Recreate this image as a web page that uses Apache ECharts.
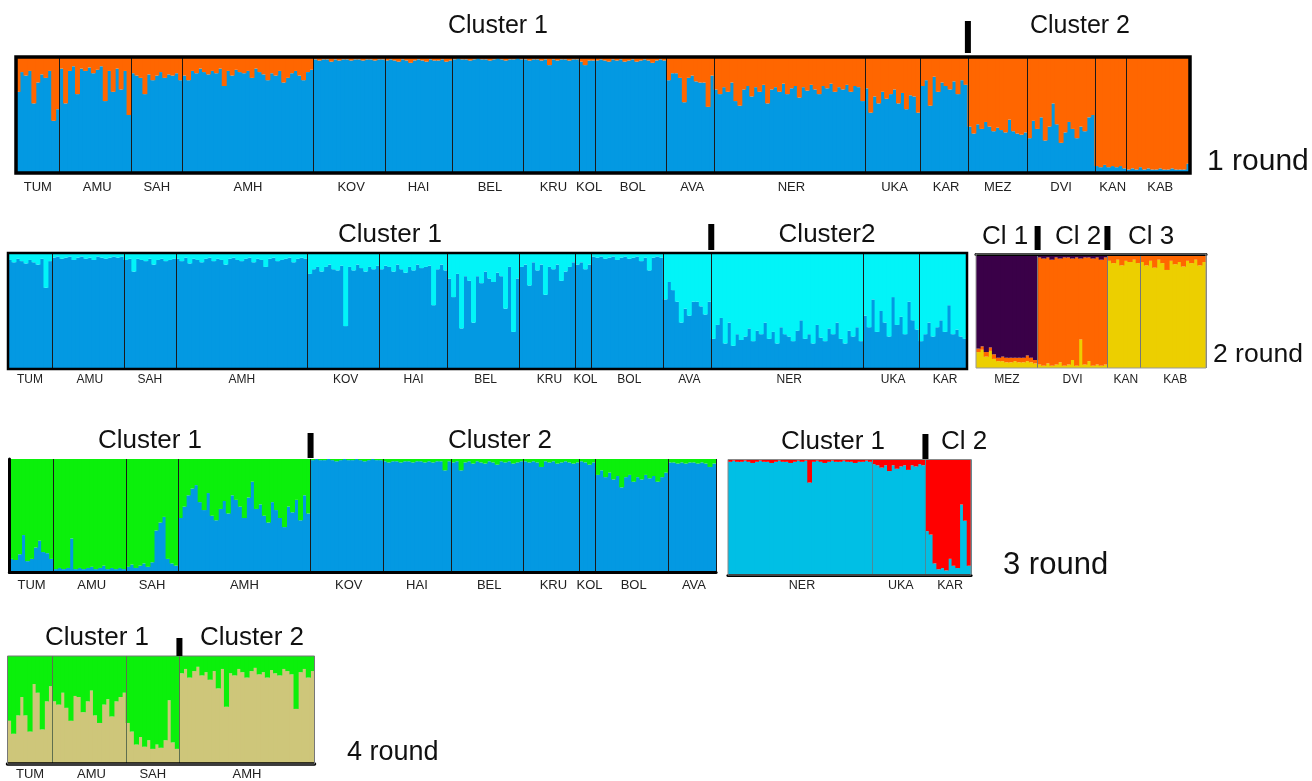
<!DOCTYPE html>
<html>
<head>
<meta charset="utf-8">
<title>STRUCTURE rounds</title>
<script src="https://cdn.jsdelivr.net/npm/echarts@6.0.0/dist/echarts.min.js"></script>
<style>
html,body{margin:0;padding:0;background:#fff;}
#main{width:1312px;height:781px;}
</style>
</head>
<body>
<div id="main"></div>
<script>
// populations and number of individuals drawn for each
var popNames = ['TUM','AMU','SAH','AMH','KOV','HAI','BEL','KRU','KOL','BOL','AVA','NER','UKA','KAR','MEZ','DVI','KAN','KAB'];
var popCounts = [11,18,13,33,18,17,18,14,4,18,12,38,14,12,15,17,8,16];

// round 1 : share of the blue cluster (%), the rest is orange
var r1Blue = [
  70,87,84,88,60,78,85,82,88,45,55,                                   // TUM
  90,60,88,92,68,90,88,91,86,89,92,62,88,70,90,72,88,50,              // AMU
  86,84,82,68,85,80,84,87,82,85,84,86,80,                             // SAH
  84,80,88,86,90,87,85,88,86,90,75,88,84,89,87,86,88,82,90,87,85,80,86,84,88,78,82,86,88,84,80,87,89, // AMH
  98,97,98,98,96,98,97,98,98,97,98,98,97,98,98,97,98,98,              // KOV
  97,98,97,96,98,97,95,97,98,97,96,98,97,97,98,96,97,                 // HAI
  98,99,98,98,97,98,99,98,98,97,98,99,98,97,98,98,99,98,              // BEL
  98,97,98,98,97,98,93,98,97,98,98,97,98,98,                          // KRU
  96,93,97,97,                                                        // KOL
  97,98,97,96,98,97,98,96,97,98,96,97,98,97,95,97,98,97,              // BOL
  80,86,86,82,61,82,84,79,78,78,57,84,                                // AVA
  72,68,74,70,78,62,58,72,75,66,74,70,76,60,72,74,70,77,68,73,75,65,74,71,76,72,68,75,73,77,70,74,72,76,70,75,74,62, // NER
  73,52,66,60,70,64,68,72,60,69,55,67,66,52,                          // UKA
  75,80,58,83,70,78,75,72,79,68,80,76,                                // KAR
  40,34,42,38,44,40,36,39,37,35,46,36,34,33,35,                       // MEZ
  30,45,38,48,28,40,60,42,26,35,44,38,30,40,36,48,50,                 // DVI
  6,5,7,5,6,5,6,4,                                                    // KAN
  3,4,3,5,3,4,3,3,4,3,3,4,3,3,3,8                                     // KAB
];

// round 2, TUM..KAR : share of blue (%), the rest is cyan
var r2Blue = [
  94,92,95,93,91,94,92,90,95,70,93,
  96,97,95,96,97,94,96,97,95,96,94,97,96,95,96,97,96,97,
  94,95,84,95,94,93,95,90,94,95,93,94,95,
  95,93,96,91,95,94,92,95,96,93,95,94,90,95,96,94,93,95,96,92,95,94,88,95,96,93,94,95,96,92,95,96,95,
  82,86,88,84,88,90,86,85,89,37,88,85,90,87,84,88,86,89,
  86,89,88,84,90,86,83,88,85,90,87,88,89,55,86,90,85,
  78,62,82,35,80,76,40,80,74,84,78,75,83,80,52,88,32,78,
  88,90,72,92,85,90,64,88,86,90,76,84,88,92,
  90,92,86,90,
  97,96,97,95,96,97,94,96,97,95,96,97,93,96,85,96,97,96,
  60,75,68,58,40,52,46,58,58,54,47,58,
  26,38,44,22,40,20,30,25,28,35,24,33,30,40,26,32,22,36,30,28,24,33,42,26,30,22,38,27,24,35,30,40,26,22,33,28,36,24,
  46,36,60,32,50,40,28,62,38,45,30,58,42,34,
  24,30,40,28,36,42,32,55,30,34,28,26
];

// round 2, MEZ..KAB : yellow and orange shares (%), the rest is purple
var r2Yellow = [
  14,16,10,15,8,6,6,5,5,6,5,5,6,5,4,
  3,2,4,2,3,5,2,3,7,2,25,3,6,2,3,2,3,
  94,92,95,90,94,93,95,92,
  93,90,94,88,95,92,86,94,91,93,89,94,92,95,90,93
];
var r2Orange = [
  3,3,4,3,4,3,4,4,4,3,4,4,5,4,3,
  94,94,93,93,94,91,95,94,89,95,71,94,91,94,94,93,94,
  5,7,4,9,5,6,4,7,
  6,9,5,11,4,7,13,5,8,6,10,5,7,4,9,6
];

// round 3, TUM..AVA : share of blue (%), the rest is green
var r3Blue = [
  12,11,16,33,10,12,22,28,18,17,12,
  3,4,3,4,30,3,4,3,4,5,3,4,6,3,4,3,4,3,
  5,7,4,6,8,5,9,37,44,49,12,8,6,
  48,58,68,74,77,62,55,70,50,46,56,63,52,68,64,58,48,66,80,56,60,50,44,62,55,48,40,58,53,64,46,68,52,
  99,100,99,99,100,99,98,99,100,99,99,100,99,98,99,100,99,99,
  98,97,98,98,97,98,98,97,98,98,97,98,97,98,98,90,98,
  97,98,90,97,98,96,98,97,96,98,97,95,98,97,98,96,97,98,
  98,97,98,97,93,98,97,98,96,97,98,97,96,97,
  98,97,95,97,
  86,90,84,88,82,85,75,84,86,80,84,82,86,83,85,80,84,88,
  97,97,96,97,96,97,97,96,97,96,93,96
];

// round 3, NER..KAR : share of light blue (%), the rest is red
var r3LightBlue = [
  98,99,98,98,99,98,97,98,99,98,98,97,98,99,98,98,97,98,99,98,99,80,98,99,98,97,98,99,98,98,99,98,98,97,98,98,99,98,
  96,95,93,95,90,95,92,94,95,91,95,94,96,95,
  38,35,10,5,6,4,14,8,6,61,47,8
];

// round 4, TUM..AMH : share of khaki (%), the rest is green
var r4Khaki = [
  40,28,45,62,45,30,74,66,32,58,72,
  58,55,66,52,40,63,62,48,58,68,45,38,55,60,44,58,62,66,
  38,30,18,25,16,22,14,18,15,22,59,20,14,
  84,88,80,86,90,82,85,78,86,70,88,53,84,82,88,85,80,86,89,83,85,80,87,84,82,88,86,83,51,85,88,80,86
];

var FONT = '"Liberation Sans", Arial, sans-serif';
var C = {
  blue: '#0399E2', orange: '#FF6600', cyan: '#02F4F8', purple: '#3A0048',
  yellow: '#ECCF00', green: '#0BF00B', lightBlue: '#00BFE5', red: '#FF0000', khaki: '#CEC67A'
};

function rest(a, b) {
  return a.map(function (v, i) { return 100 - v - (b ? b[i] : 0); });
}

var panels = [
  { pops: popNames.slice(0, 18), grid: {left: 16, top: 57, width: 1174, height: 116},
    border: {color: '#000', width: 3.5}, labelSize: 13, margin: 8, divider: '#1a1a1a',
    layers: [[r1Blue, C.blue], [rest(r1Blue), C.orange]] },
  { pops: popNames.slice(0, 14), grid: {left: 8, top: 253, width: 959, height: 116},
    border: {color: '#000', width: 2.5}, labelSize: 12, margin: 5, divider: '#1a1a1a',
    layers: [[r2Blue, C.blue], [rest(r2Blue), C.cyan]] },
  { pops: popNames.slice(14), grid: {left: 976, top: 254, width: 230, height: 114},
    border: {color: '#999', width: 1}, topLine: true, labelSize: 12, margin: 6, divider: '#777',
    layers: [[r2Yellow, C.yellow], [r2Orange, C.orange], [rest(r2Yellow, r2Orange), C.purple]] },
  { pops: popNames.slice(0, 11), grid: {left: 9.5, top: 459, width: 706.5, height: 113.5},
    bottomLine: 3.2, leftLine: 3, labelSize: 13, margin: 6, divider: '#1a1a1a',
    layers: [[r3Blue, C.blue], [rest(r3Blue), C.green]] },
  { pops: ['NER','UKA','KAR'], grid: {left: 728, top: 459.5, width: 243, height: 115.5},
    border: {color: '#888', width: 1}, bottomLine: 3.2, labelSize: 12.5, margin: 4, divider: '#4a8a9a',
    layers: [[r3LightBlue, C.lightBlue], [rest(r3LightBlue), C.red]] },
  { pops: popNames.slice(0, 4), grid: {left: 7.5, top: 656, width: 307, height: 109},
    border: {color: '#777', width: 1}, bottomLine: 3.5, labelSize: 13, margin: 4, divider: '#5f6f4f',
    layers: [[r4Khaki, C.khaki], [rest(r4Khaki), C.green]] }
];

var option = {
  animation: false,
  backgroundColor: '#fff',
  grid: [], xAxis: [], yAxis: [], series: []
};

panels.forEach(function (p, gi) {
  var ids = [], centers = {}, starts = {};
  p.pops.forEach(function (name) {
    var n = popCounts[popNames.indexOf(name)];
    starts[name] = ids.length;
    centers[ids.length + Math.round((n - 1) / 2)] = name;
    for (var k = 0; k < n; k++) ids.push(name + '-' + (k + 1));
  });
  p.ids = ids; p.starts = starts;
  var bounds = Object.keys(starts).map(function (k) { return starts[k]; }).filter(function (v) { return v > 0; });

  var g = {left: p.grid.left, top: p.grid.top, width: p.grid.width, height: p.grid.height, z: 10,
           show: !!p.border, backgroundColor: 'rgba(0,0,0,0)', borderWidth: 0};
  if (p.border) { g.borderColor = p.border.color; g.borderWidth = p.border.width; }
  option.grid.push(g);

  option.xAxis.push({
    gridIndex: gi, type: 'category', data: ids, position: 'bottom', z: 6,
    axisLine: {show: !!p.bottomLine, lineStyle: {color: '#000', width: p.bottomLine || 1}},
    axisTick: {show: false},
    axisLabel: {
      interval: 0, margin: p.margin, fontSize: p.labelSize, fontFamily: FONT, color: '#222',
      formatter: function (v, i) { return centers[i] || ''; }
    },
    splitLine: {
      show: true,
      interval: function (i) { return bounds.indexOf(i) >= 0; },
      lineStyle: {color: p.divider, width: 1}
    }
  });
  option.yAxis.push({
    gridIndex: gi, type: 'value', min: 0, max: 100, z: 6,
    axisLine: {show: !!p.leftLine, lineStyle: {color: '#000', width: p.leftLine || 1}},
    axisTick: {show: false}, axisLabel: {show: false}, splitLine: {show: false}
  });
  p.layers.forEach(function (layer) {
    // bars are a little wider than their band so neighbours overlap and no seams show
    option.series.push({
      type: 'bar', xAxisIndex: gi, yAxisIndex: gi, stack: 'panel' + gi,
      data: layer[0], barWidth: '125%', barGap: '0%', silent: true,
      itemStyle: {color: layer[1], borderWidth: 0}
    });
  });
});

// black line above the right-hand panel of round 2
option.xAxis.push({
  gridIndex: 2, type: 'category', data: panels[2].ids, position: 'top', z: 6,
  axisLine: {show: true, lineStyle: {color: '#000', width: 3}},
  axisTick: {show: false}, axisLabel: {show: false}, splitLine: {show: false}
});

var titles = [
  {text: 'Cluster 1', x: 498, y: 26, size: 25},
  {text: 'Cluster 2', x: 1080, y: 26, size: 25},
  {text: '1 round', x: 1207, y: 162, size: 30, left: true},
  {text: 'Cluster 1', x: 390, y: 235, size: 26},
  {text: 'Cluster2', x: 827, y: 235, size: 26},
  {text: 'Cl 1', x: 1005, y: 237, size: 26},
  {text: 'Cl 2', x: 1078, y: 237, size: 26},
  {text: 'Cl 3', x: 1151, y: 237, size: 26},
  {text: '2 round', x: 1213, y: 355, size: 26.5, left: true},
  {text: 'Cluster 1', x: 150, y: 441, size: 26},
  {text: 'Cluster 2', x: 500, y: 441, size: 26},
  {text: 'Cluster 1', x: 833, y: 442, size: 26},
  {text: 'Cl 2', x: 964, y: 442, size: 26},
  {text: '3 round', x: 1003, y: 565, size: 31, left: true},
  {text: 'Cluster 1', x: 97, y: 638, size: 26},
  {text: 'Cluster 2', x: 252, y: 638, size: 26},
  {text: '4 round', x: 347, y: 753, size: 27, left: true}
];

// black separators sit on the boundary between clusters
var separators = [
  {panel: 0, pop: 'MEZ', top: 21, bottom: 53},
  {panel: 1, pop: 'NER', top: 224, bottom: 250},
  {panel: 2, pop: 'DVI', top: 226, bottom: 250},
  {panel: 2, pop: 'KAN', top: 226, bottom: 250},
  {panel: 3, pop: 'KOV', top: 433, bottom: 458},
  {panel: 4, pop: 'KAR', top: 434, bottom: 459},
  {panel: 5, pop: 'AMH', top: 638, bottom: 656}
];

var myChart = echarts.init(document.getElementById('main'), null, {renderer: 'canvas'});
myChart.setOption(option);

var elements = titles.map(function (t) {
  return {
    type: 'text', x: t.x, y: t.y, z: 20,
    style: {text: t.text, fontSize: t.size, fontFamily: FONT, fill: '#111',
            align: t.left ? 'left' : 'center', verticalAlign: 'middle'}
  };
});
separators.forEach(function (s) {
  var p = panels[s.panel];
  var idx = p.starts[s.pop];
  var x = (myChart.convertToPixel({xAxisIndex: s.panel}, idx - 1) +
           myChart.convertToPixel({xAxisIndex: s.panel}, idx)) / 2;
  elements.push({
    type: 'rect', z: 20,
    shape: {x: x - 3, y: s.top, width: 6, height: s.bottom - s.top},
    style: {fill: '#000'}
  });
});
myChart.setOption({graphic: {elements: elements}});
</script>
</body>
</html>
